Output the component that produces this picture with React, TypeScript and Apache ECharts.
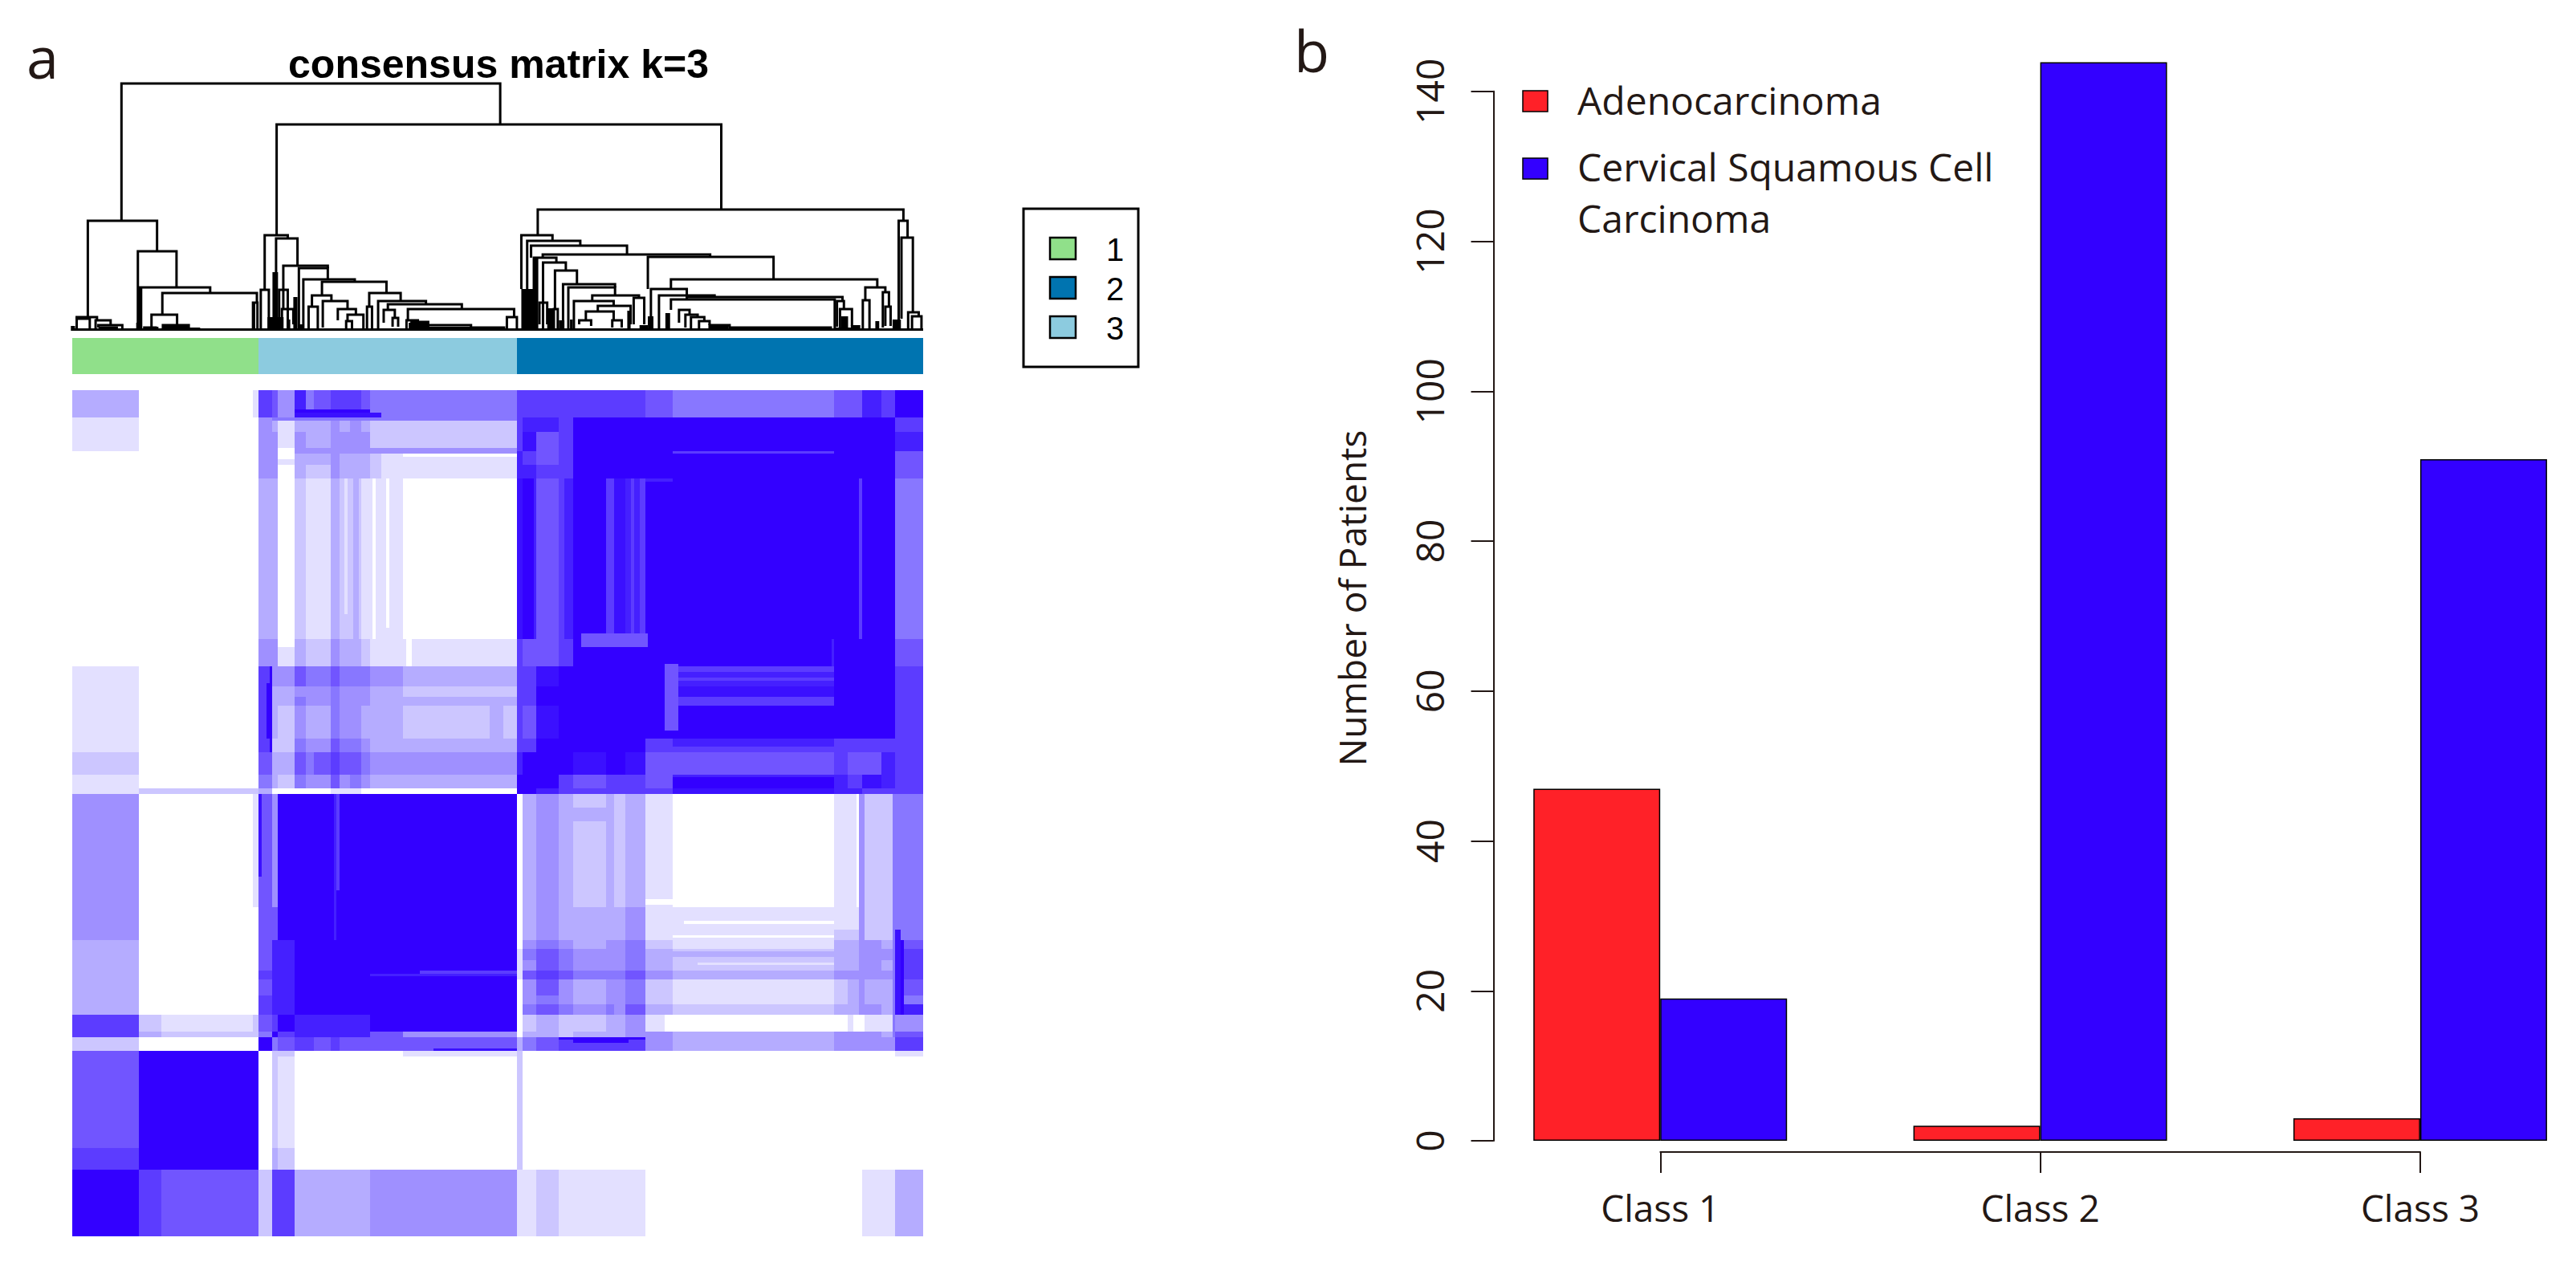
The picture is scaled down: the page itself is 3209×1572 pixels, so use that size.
import React, { useEffect, useRef } from "react";
import * as echarts from "echarts";

// ---------- panel a: consensus matrix (306 samples, symmetric band blocks) ----------
const sampleCount = 306;
const bandEdges = [0, 24, 32, 65, 67, 72, 74, 80, 84, 87, 93, 96, 100, 104, 107, 111, 119, 160, 162, 167, 175, 180, 192, 195, 199, 206, 216, 274, 279, 284, 291, 296, 306];
const levelColors = ["#ffffff", "#e3e0ff", "#ccc6ff", "#b5acff", "#9f90ff", "#8877ff", "#7155ff", "#5c3cff", "#4520ff", "#3b10ff", "#3300ff"];
// lower triangle of the consensus levels, one row per band, hex digit per column
const levelRows = [
  "A",
  "7A",
  "6AA",
  "6AAA",
  "2000A",
  "73225A",
  "721267A",
  "3000788A",
  "3000788AA",
  "3000688AAA",
  "3000788AAAA",
  "3000688AAAAA",
  "3000688AAAAAA",
  "3000688AAAAAAA",
  "400066AAAAAAAAA",
  "400066AAAAAAAAAA",
  "400164AAAAAAAAAAA",
  "12223000001110000A",
  "1000532" + "5446454333" + "AA",
  "2000633" + "6567665444" + "8AA",
  "1000722" + "5446554333" + "77AA",
  "1000732" + "4335443332" + "769AA",
  "1000733" + "5445444333" + "77AAAA",
  "1000733" + "4445444332" + "77AAAAA",
  "1000744" + "6556555443" + "779AAAAA",
  "0000441" + "3224332111" + "7667AAAAA",
  "0000330" + "2113221110" + "9A67A798AA",
  "0000440" + "3224333211" + "8877AAAAAAA",
  "0000441" + "3334333211" + "8767AAAAAAAA",
  "1000441" + "4334444222" + "7967AAAAAAAAA",
  "1000431" + "3334343222" + "7887AAAAAAAAAA",
  "3001764" + "8567776555" + "77777777" + "6566" + "87A",
];
// thin lines inside the blocks: sample from, to, sample from, to, level
const fineStripes = [
  [67, 160, 283, 285, 4], [216, 274, 283, 284, 7], [216, 274, 204, 206, 7], [216, 274, 201, 202, 7],
  [216, 274, 199, 200, 8], [216, 274, 192, 195, 7], [216, 274, 177, 180, 8], [216, 274, 166, 167, 8],
  [183, 207, 213, 218, 6], [71, 72, 175, 206, 10], [180, 200, 70, 71, 10], [130, 160, 67, 68, 9],
  [80, 107, 298, 299, 10], [95, 96, 125, 160, 7], [107, 160, 94, 95, 8], [206, 216, 273, 274, 8],
  [220, 274, 113, 114, 0], [216, 274, 108, 109, 0], [225, 274, 98, 99, 1], [216, 274, 101, 103, 3],
  [216, 274, 93, 95, 3], [296, 298, 80, 111, 9], [72, 160, 295, 296, 5], [119, 160, 282, 283, 0],
  [180, 192, 150, 155, 3], [206, 216, 120, 122, 0], [74, 80, 281, 285, 0], [74, 80, 213, 216, 0],
];

const classOrder = ["1", "3", "2"];
const classSizes = [67, 93, 146];
const classColors: Record<string, string> = { "1": "#90e08a", "2": "#0074b0", "3": "#8ccbdf" };
const legendClasses = ["1", "2", "3"];

// dendrogram joins: left leaf position, right position, height, left arm end, right arm end
const dendroMerges = [
  [17.7, 153.9, 308, 137, 257],
  [5.6, 30.5, 137, 17, 99],
  [1.6, 8.9, 17, 15, 13],
  [1.6, 6.3, 15, 2, 2],
  [8.4, 13.8, 13, 2, 7],
  [9.4, 18, 7, 4, 2],
  [9.9, 16, 4, 1, 1],
  [23.6, 37.5, 99, 2, 54],
  [24.3, 49.6, 54, 2, 47],
  [32.4, 66.4, 47, 20, 35],
  [28.5, 37.7, 20, 4, 7],
  [25.9, 30, 4, 1, 1],
  [32.6, 41.9, 7, 3, 3],
  [65, 66.6, 35, 1, 1],
  [73.5, 233.4, 257, 119, 151],
  [69.2, 77.5, 119, 51, 115],
  [67.8, 70.7, 51, 1, 1],
  [73.3, 81, 115, 1, 81],
  [74.4, 77.5, 51, 1, 1],
  [75.9, 91.9, 81, 27, 78],
  [75.4, 79.5, 27, 8, 8],
  [81.5, 91.9, 78, 2, 63],
  [83.1, 101.6, 64, 2, 61],
  [89.8, 113, 61, 44, 47],
  [86.2, 93.2, 44, 30, 37],
  [85, 88.3, 30, 2, 2],
  [90.1, 99, 37, 4, 27],
  [95.5, 102, 27, 13, 20],
  [99, 104.7, 20, 13, 2],
  [98.5, 100.6, 12, 2, 2],
  [106.8, 118.1, 47, 30, 37],
  [106, 107.8, 30, 2, 2],
  [110, 127.2, 37, 2, 33],
  [113.5, 140.1, 33, 26, 27],
  [112, 116, 26, 10, 16],
  [115.2, 117.2, 16, 5, 5],
  [120.7, 158.9, 27, 13, 17],
  [120.2, 124.3, 13, 2, 11],
  [122, 128, 11, 2, 7],
  [128, 143.4, 7, 2, 4],
  [143.4, 155.3, 4, 2, 1],
  [156.3, 159.9, 17, 2, 2],
  [167.4, 298.9, 151, 119, 137],
  [161.5, 172.7, 119, 52, 112],
  [163.6, 182.7, 112, 52, 106],
  [165, 199.5, 106, 91, 95],
  [169.2, 229.4, 95, 91, 92],
  [166, 174.1, 91, 2, 85],
  [169.3, 177.5, 85, 2, 75],
  [173.6, 181.5, 75, 27, 58],
  [173.2, 174.6, 27, 2, 2],
  [176.5, 195.2, 58, 2, 54],
  [178.4, 195.2, 54, 2, 44],
  [187, 203.8, 44, 37, 41],
  [201.9, 205.7, 41, 8, 8],
  [180.4, 194.7, 37, 2, 31],
  [189, 200.8, 31, 24, 8],
  [184.7, 194.7, 24, 13, 13],
  [182.3, 186.6, 13, 8, 6],
  [194.2, 197.6, 13, 4, 4],
  [168, 170.8, 35, 8, 8],
  [207, 252.2, 92, 52, 64],
  [208.1, 221, 52, 3, 44],
  [211, 231, 44, 3, 42],
  [221, 277, 42, 39, 37],
  [215.3, 274.2, 39, 26, 2],
  [218.2, 222, 26, 10, 20],
  [220.5, 224.9, 20, 4, 17],
  [222.5, 227.3, 17, 3, 12],
  [225.4, 229.2, 12, 3, 7],
  [229.2, 236.4, 7, 2, 4],
  [236.4, 272.8, 4, 1, 1],
  [275, 277.5, 37, 5, 27],
  [276.1, 280.4, 27, 3, 5],
  [215.3, 289.5, 64, 52, 54],
  [285.2, 292.4, 54, 38, 48],
  [284.3, 286.7, 38, 1, 1],
  [291.5, 293.7, 48, 4, 30],
  [292.4, 294.3, 30, 6, 6],
  [297.2, 300.4, 137, 1, 116],
  [298.2, 302.3, 116, 15, 23],
  [300.6, 304.4, 23, 1, 18],
  [302, 305.4, 18, 1, 1],
];
// solid dark runs where many leaves merge: position from, to, height
const dendroSolid = [
  [0, 306, 3], [-0.5, 1, 6], [24.3, 25.2, 53], [23, 24, 10], [26, 31, 5], [32.5, 42, 6], [42, 46, 4],
  [65, 65.8, 34], [70.2, 76, 17], [72, 74, 73], [79.5, 81, 42], [77.6, 78.4, 14], [81.6, 83, 8],
  [121, 128, 10], [128, 143.4, 5], [143.4, 155.3, 3], [161.5, 166, 52], [166, 167.6, 91], [170.8, 173.2, 28],
  [175, 177, 13], [179, 180, 14], [196, 197, 3], [199.6, 200.8, 25], [204, 207, 7], [207, 209, 18], [213.3, 215, 22],
  [229, 236, 6], [236.4, 272.8, 3], [274, 283, 4], [276.5, 279, 18], [280, 283.4, 7], [288.8, 290.2, 12], [295, 298, 14],
];

// ---------- panel b: patients per class ----------
const barCategories = ["Class 1", "Class 2", "Class 3"];
const barPositions = [1, 2, 3];
const adenoValues = [47, 2, 3];
const squamousValues = [19, 144, 91];
const adenoName = "Adenocarcinoma";
const squamousName = "Cervical Squamous Cell Carcinoma";
const RED = "#ff2128";
const BLUE = "#3300ff";
const INK = "#231815";
const FONT = "'Open Sans', sans-serif";

function buildMatrixCells() {
  const cells: number[][] = [];
  const bands = bandEdges.length - 1;
  for (let i = 0; i < bands; i++) {
    for (let j = 0; j < bands; j++) {
      const level = i >= j ? parseInt(levelRows[i][j], 16) : parseInt(levelRows[j][i], 16);
      if (level > 0) cells.push([bandEdges[j], bandEdges[j + 1], bandEdges[i], bandEdges[i + 1], level]);
    }
  }
  fineStripes.forEach(([a, b, c, d, v]) => {
    cells.push([a, b, c, d, v]);
    cells.push([c, d, a, b, v]);
  });
  return cells;
}

function buildClassCells() {
  let start = 0;
  return classOrder.map((c, i) => {
    const cell = { value: [start, start + classSizes[i], 0, 1], itemStyle: { color: classColors[c] } };
    start += classSizes[i];
    return cell;
  });
}

function rectFrom(api: any) {
  const a = api.coord([api.value(0), api.value(2)]);
  const b = api.coord([api.value(1), api.value(3)]);
  const x0 = Math.round(Math.min(a[0], b[0]));
  const x1 = Math.round(Math.max(a[0], b[0]));
  const y0 = Math.round(Math.min(a[1], b[1]));
  const y1 = Math.round(Math.max(a[1], b[1]));
  return { x: x0, y: y0, width: x1 - x0, height: y1 - y0 };
}

function hiddenAxis(gridIndex: number, min: number, max: number) {
  return { type: "value" as const, gridIndex, min, max, show: false };
}

function panelText(text: string, x: number, y: number, fontSize: number, extra: any = {}) {
  return {
    type: "text",
    x,
    y,
    style: { text, fontSize, fontFamily: FONT, fill: INK, textAlign: "left", textVerticalAlign: "middle", ...extra },
  };
}

function buildOption() {
  const classKey = [
    { type: "rect", shape: { x: 1275, y: 260, width: 143, height: 197 }, style: { fill: "#fff", stroke: "#000", lineWidth: 3 } },
    ...legendClasses.flatMap((c, i) => [
      { type: "rect", shape: { x: 1308, y: 296 + i * 49, width: 32, height: 27 }, style: { fill: classColors[c], stroke: "#000", lineWidth: 2.5 } },
      panelText(c, 1378, 311 + i * 49, 40, { fontFamily: "'Liberation Sans', sans-serif", fill: "#000" }),
    ]),
  ];
  const barKey = [
    { type: "rect", shape: { x: 1897, y: 113, width: 31, height: 26 }, style: { fill: RED, stroke: "#000", lineWidth: 1.5 } },
    { type: "rect", shape: { x: 1897, y: 197, width: 31, height: 26 }, style: { fill: BLUE, stroke: "#000", lineWidth: 1.5 } },
    panelText(adenoName, 1965, 124, 48),
    panelText("Cervical Squamous Cell", 1965, 207, 48),
    panelText("Carcinoma", 1965, 271, 48),
  ];
  return {
    animation: false,
    backgroundColor: "#fff",
    title: {
      text: "consensus matrix k=3",
      left: 616,
      top: 50,
      textAlign: "center",
      textStyle: { fontFamily: "'Liberation Sans', sans-serif", fontWeight: "bold", fontSize: 50, color: "#000" },
    },
    grid: [
      { left: 90, width: 1060, top: 103, height: 309 },
      { left: 90, width: 1060, top: 421, height: 45 },
      { left: 90, width: 1060, top: 486, height: 1054 },
      { left: 1831.5, width: 1377.5, top: 21.5, height: 1399.5 },
      { left: 1860.5, width: 10, top: 113.8, height: 1307.2 },
      { left: 2068.3, width: 946.7, top: 1425, height: 10 },
    ],
    xAxis: [
      hiddenAxis(0, 0, sampleCount),
      hiddenAxis(1, 0, sampleCount),
      hiddenAxis(2, 0, sampleCount),
      hiddenAxis(3, 0.5, 3.41),
      hiddenAxis(4, 0, 1),
      {
        type: "category",
        gridIndex: 5,
        data: barCategories,
        boundaryGap: false,
        axisLine: { show: true, lineStyle: { color: INK, width: 2 } },
        axisTick: { show: true, alignWithLabel: true, length: 26, lineStyle: { color: INK, width: 2 } },
        axisLabel: { show: true, interval: 0, margin: 46, fontSize: 46, fontFamily: FONT, color: INK },
      },
    ],
    yAxis: [
      hiddenAxis(0, 0, 309),
      hiddenAxis(1, 0, 1),
      hiddenAxis(2, 0, sampleCount),
      hiddenAxis(3, 0, 150),
      {
        type: "value",
        gridIndex: 4,
        min: 0,
        max: 140,
        interval: 20,
        splitLine: { show: false },
        axisLine: { show: true, lineStyle: { color: INK, width: 2 } },
        axisTick: { show: true, length: 28, lineStyle: { color: INK, width: 2 } },
        axisLabel: { show: true, rotate: 90, margin: 56, fontSize: 48, fontFamily: FONT, color: INK, hideOverlap: false },
      },
      hiddenAxis(5, 0, 1),
    ],
    series: [
      {
        type: "custom",
        name: "dendrogram",
        xAxisIndex: 0,
        yAxisIndex: 0,
        silent: true,
        clip: false,
        data: dendroMerges,
        renderItem: (_: any, api: any) => {
          const xl = api.value(0);
          const xr = api.value(1);
          const pts = [[xl, api.value(3)], [xl, api.value(2)], [xr, api.value(2)], [xr, api.value(4)]].map((p) => api.coord(p));
          return { type: "polyline", shape: { points: pts }, style: { fill: "none", stroke: "#000", lineWidth: 3 } };
        },
      },
      {
        type: "custom",
        name: "dendrogram leaves",
        xAxisIndex: 0,
        yAxisIndex: 0,
        silent: true,
        clip: false,
        data: dendroSolid,
        renderItem: (_: any, api: any) => {
          const a = api.coord([api.value(0), api.value(2)]);
          const b = api.coord([api.value(1), 0]);
          return { type: "rect", shape: { x: a[0], y: a[1], width: b[0] - a[0], height: b[1] - a[1] }, style: { fill: "#000" } };
        },
      },
      {
        type: "custom",
        name: "class",
        xAxisIndex: 1,
        yAxisIndex: 1,
        silent: true,
        data: buildClassCells(),
        renderItem: (_: any, api: any) => ({ type: "rect", shape: rectFrom(api), style: { fill: api.visual("color") } }),
      },
      {
        type: "custom",
        name: "consensus",
        xAxisIndex: 2,
        yAxisIndex: 2,
        silent: true,
        data: buildMatrixCells(),
        renderItem: (_: any, api: any) => ({ type: "rect", shape: rectFrom(api), style: { fill: levelColors[api.value(4)] } }),
      },
      {
        type: "bar",
        name: adenoName,
        xAxisIndex: 3,
        yAxisIndex: 3,
        barWidth: 158,
        barGap: 0,
        data: barPositions.map((p, i) => [p, adenoValues[i]]),
        itemStyle: { color: RED, borderColor: "#000", borderWidth: 1.5 },
      },
      {
        type: "bar",
        name: squamousName,
        xAxisIndex: 3,
        yAxisIndex: 3,
        barWidth: 158,
        barGap: 0,
        data: barPositions.map((p, i) => [p, squamousValues[i]]),
        itemStyle: { color: BLUE, borderColor: "#000", borderWidth: 1.5 },
      },
    ],
    graphic: [
      panelText("a", 33, 70, 72),
      panelText("b", 1612, 62, 72),
      {
        type: "text",
        x: 1684,
        y: 745,
        rotation: Math.PI / 2,
        style: { text: "Number of Patients", fontSize: 46, fontFamily: FONT, fill: INK, textAlign: "center", textVerticalAlign: "middle" },
      },
      ...classKey,
      ...barKey,
    ],
  };
}

export default function App() {
  const ref = useRef<HTMLDivElement>(null);
  useEffect(() => {
    const chart = echarts.init(ref.current!, undefined, { renderer: "svg" });
    chart.setOption(buildOption() as any);
    return () => chart.dispose();
  }, []);
  return <div ref={ref} style={{ position: "absolute", left: 0, top: 0, width: 3209, height: 1572 }} />;
}
